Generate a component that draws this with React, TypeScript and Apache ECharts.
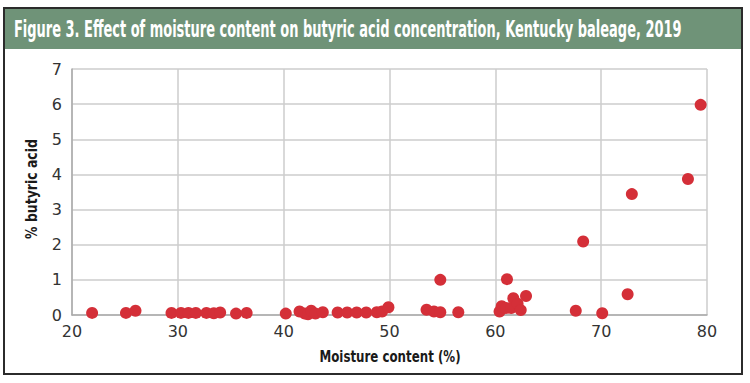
import React, { useEffect, useRef } from "react";
import * as echarts from "echarts";

const titleText = "Figure 3. Effect of moisture content on butyric acid concentration, Kentucky baleage, 2019";
const xName = "Moisture content (%)";
const yName = "% butyric acid";

const moisture = [21.9, 25.1, 26.0, 29.4, 30.3, 31.0, 31.7, 32.7, 33.4, 34.0, 35.5, 36.5, 40.2, 41.5, 42.0, 42.3, 42.6, 43.0, 43.7, 45.1, 46.0, 46.9, 47.8, 48.8, 49.3, 49.9, 53.5, 54.2, 54.8, 54.8, 56.5, 60.4, 60.6, 61.0, 61.1, 61.5, 61.7, 62.1, 62.4, 62.9, 67.6, 68.3, 70.1, 72.5, 72.9, 78.2, 79.4];
const butyric = [0.06, 0.06, 0.12, 0.06, 0.06, 0.06, 0.06, 0.06, 0.05, 0.07, 0.04, 0.06, 0.04, 0.1, 0.04, 0.02, 0.12, 0.04, 0.08, 0.07, 0.07, 0.07, 0.07, 0.08, 0.1, 0.22, 0.15, 0.1, 0.08, 1.0, 0.08, 0.1, 0.25, 0.2, 1.02, 0.2, 0.48, 0.32, 0.14, 0.54, 0.12, 2.09, 0.05, 0.59, 3.44, 3.87, 5.98];

export default function App() {
  const ref = useRef<HTMLDivElement>(null);
  useEffect(() => {
    if (!ref.current) return;
    const chart = echarts.init(ref.current, null, { renderer: "svg" });
    const data = moisture.map((m, i) => [m, butyric[i]]);
    chart.setOption({
      animation: false,
      backgroundColor: "#ffffff",
      graphic: [
        { type: "rect", shape: { x: 4, y: 8, width: 738, height: 366 }, style: { fill: "none", stroke: "#2b2b2b", lineWidth: 2 }, z: 10 },
        { type: "rect", shape: { x: 5, y: 9, width: 736, height: 40 }, style: { fill: "#6f9378", stroke: "none" }, z: 9 },
        {
          type: "text", x: 14, y: 29, scaleX: 0.565, z: 11,
          style: { text: titleText, fill: "#ffffff", font: "bold 23px 'DejaVu Sans', sans-serif", textVerticalAlign: "middle" },
        },
        {
          type: "text", x: 390, y: 356, scaleX: 0.74, z: 11,
          style: { text: xName, fill: "#1a1a1a", font: "bold 16px 'DejaVu Sans', sans-serif", textAlign: "center", textVerticalAlign: "middle" },
        },
        {
          type: "text", x: 31, y: 189, rotation: Math.PI / 2, scaleX: 0.78, z: 11,
          style: { text: yName, fill: "#1a1a1a", font: "bold 16px 'DejaVu Sans', sans-serif", textAlign: "center", textVerticalAlign: "middle" },
        },
      ],
      grid: { left: 72, right: 43, top: 69, bottom: 68, containLabel: false },
      xAxis: {
        type: "value", min: 20, max: 80, interval: 10,
        axisLine: { lineStyle: { color: "#aaaaaa", width: 1.5 } },
        axisTick: { show: false },
        axisLabel: { fontFamily: "DejaVu Sans", fontSize: 16, color: "#333333", margin: 8 },
        splitLine: { show: true, lineStyle: { color: "#cccccc", width: 1.5 } },
      },
      yAxis: {
        type: "value", min: 0, max: 7, interval: 1,
        axisLine: { show: true, lineStyle: { color: "#aaaaaa", width: 1.5 } },
        axisTick: { show: false },
        axisLabel: { fontFamily: "DejaVu Sans", fontSize: 16, color: "#333333", margin: 10 },
        splitLine: { show: true, lineStyle: { color: "#cccccc", width: 1.5 } },
      },
      series: [
        {
          type: "scatter", data, symbol: "circle", symbolSize: 12,
          itemStyle: { color: "#d42f38", opacity: 1 },
        },
      ],
    });
    return () => chart.dispose();
  }, []);
  return <div ref={ref} style={{ width: 750, height: 383, position: "absolute", left: 0, top: 0 }} />;
}
